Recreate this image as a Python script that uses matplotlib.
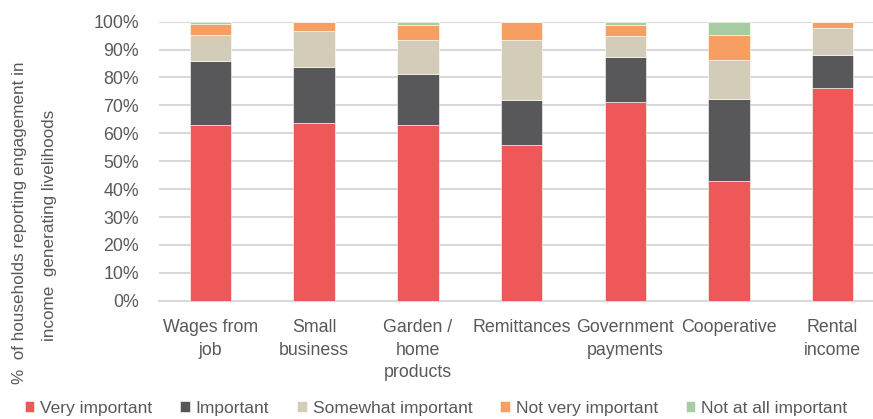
import numpy as np
import matplotlib.pyplot as plt

plt.rcParams['font.family'] = ['Liberation Sans Narrow', 'Liberation Sans', 'DejaVu Sans']

categories = ["Wages from\njob", "Small\nbusiness", "Garden /\nhome\nproducts", "Remittances",
              "Government\npayments", "Cooperative", "Rental\nincome"]
very_important = [63.0, 63.8, 62.9, 55.8, 71.1, 42.9, 76.3]
important = [23.0, 20.1, 18.3, 16.1, 16.1, 29.4, 11.8]
somewhat_important = [9.2, 12.8, 12.2, 21.5, 7.7, 14.0, 9.7]
not_very_important = [4.0, 3.3, 5.5, 6.6, 4.0, 9.0, 2.2]
not_at_all_important = [0.8, 0.0, 1.1, 0.0, 1.1, 4.7, 0.0]

series = [("Very important", very_important, "#EF5859"),
          ("Important", important, "#58585A"),
          ("Somewhat important", somewhat_important, "#D3CCB8"),
          ("Not very important", not_very_important, "#F79E62"),
          ("Not at all important", not_at_all_important, "#A6CDA2")]

W, H = 873, 419
fig = plt.figure(figsize=(W / 100, H / 100), dpi=100)
ax = fig.add_axes([158.6 / W, (H - 300.7) / H, 725.9 / W, 279 / H])

x = np.arange(len(categories))
bottom = np.zeros(len(categories))
for name, vals, col in series:
    ax.bar(x, vals, 0.4, bottom=bottom, color=col, label=name,
           edgecolor="white", linewidth=0.4, zorder=3)
    bottom += np.array(vals)

ax.set_xlim(-0.5, len(categories) - 0.5)
ax.set_ylim(0, 100)
ax.set_yticks(np.arange(0, 101, 10))
ax.set_yticklabels([f"{v}%" for v in range(0, 101, 10)])
ax.set_xticks(x)
ax.set_xticklabels(categories, linespacing=1.45)
ax.grid(axis="y", color="#D9D9D9", linewidth=1.5, zorder=0)
for s in ["top", "right", "left"]:
    ax.spines[s].set_visible(False)
ax.spines["bottom"].set_color("#D9D9D9")
ax.spines["bottom"].set_linewidth(1.5)
ax.tick_params(axis="y", length=0, pad=14, labelsize=12.8, labelcolor="#595959")
ax.tick_params(axis="x", length=0, pad=13, labelsize=12.8, labelcolor="#595959")

fig.text(20 / W, 196 / H, "%  of households reporting engagement in", rotation=90,
         ha="center", va="center", fontsize=12.3, color="#595959")
fig.text(50 / W, 194 / H, "income  generating livelihoods", rotation=90,
         ha="center", va="center", fontsize=12.3, color="#595959")

fig.legend(loc="center", bbox_to_anchor=(436 / W, 1 - 408 / H), ncol=5, frameon=False,
           fontsize=12.5, handlelength=0.55, handleheight=0.55, handletextpad=0.35,
           columnspacing=1.6, labelcolor="#595959")

fig.savefig("out.png", dpi=100)
